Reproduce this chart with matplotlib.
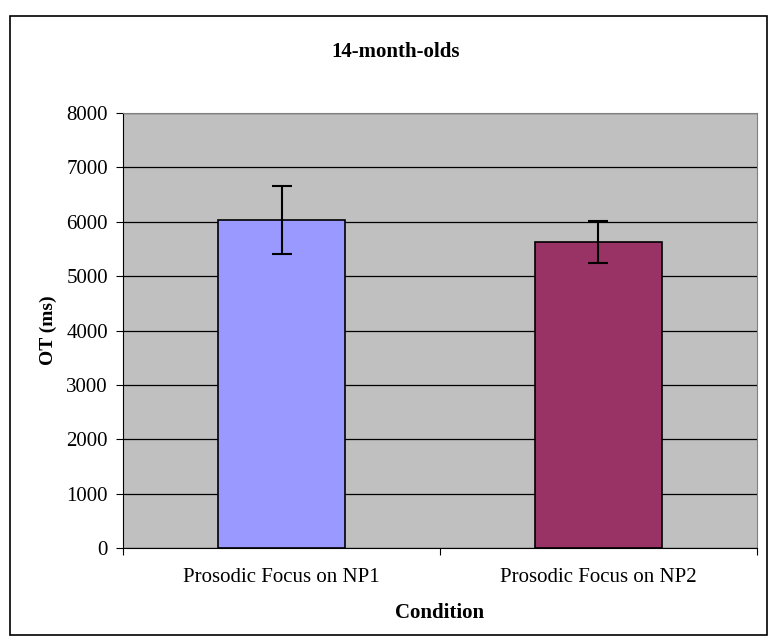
import numpy as np
import matplotlib.pyplot as plt
from matplotlib.patches import Rectangle

# Data
conditions = ['Prosodic Focus on NP1', 'Prosodic Focus on NP2']
mean_ot = [6035, 5630]      # ms
err_ot = [630, 385]         # ms
bar_colors = ['#9999FF', '#993366']

plt.rcParams['font.family'] = ['Liberation Serif', 'DejaVu Serif']

fig = plt.figure(figsize=(7.7, 6.42), dpi=100)
ax = fig.add_axes([0.160, 0.146, 0.823, 0.678])

# outer chart border
fig.patches.append(Rectangle((10 / 770, 1 - 635 / 642), 757 / 770, 619 / 642,
                             transform=fig.transFigure, fill=False,
                             edgecolor='black', linewidth=1.2))

x = np.arange(len(conditions))
ax.set_facecolor('#C0C0C0')
ax.set_axisbelow(True)
ax.grid(axis='y', color='#000000', linewidth=0.9)
ax.bar(x, mean_ot, 0.4, color=bar_colors, edgecolor='black', linewidth=1.2,
       yerr=err_ot, error_kw=dict(ecolor='black', elinewidth=1.5, capsize=7, capthick=1.5))

ax.set_xlim(-0.5, 1.5)
ax.set_ylim(0, 8000)
ax.set_yticks(np.arange(0, 8001, 1000))
ax.set_xticks([-0.5, 0.5, 1.5])
ax.set_xticklabels([])
ax.set_xticks(x, minor=True)
ax.set_xticklabels(conditions, minor=True, fontsize=15)
ax.tick_params(axis='x', which='minor', length=0, pad=14)
ax.tick_params(axis='x', which='major', direction='out', length=5)
ax.tick_params(axis='y', direction='out', length=5, labelsize=15, pad=6)

for side in ['top', 'right']:
    ax.spines[side].set_color('#808080')
ax.spines['left'].set_color('black')
ax.spines['bottom'].set_color('black')

ax.set_ylabel('OT (ms)', fontsize=14, fontweight='bold', labelpad=7)
ax.set_xlabel('Condition', fontsize=15, fontweight='bold', labelpad=12)
fig.text(396 / 770, 0.919, '14-month-olds', ha='center', va='center',
         fontsize=15, fontweight='bold')

plt.savefig('out.png', dpi=100)
